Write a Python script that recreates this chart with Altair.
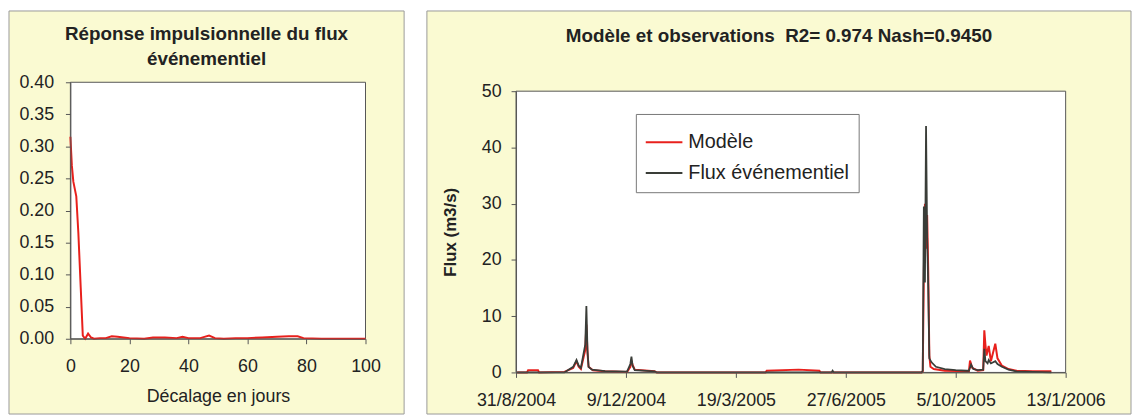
import altair as alt
import pandas as pd

# ---------------- data ----------------
# Left panel: impulse response of the event flux
lag_days = [0, 0.5, 1, 2, 2.7, 3.5, 4.2, 5, 6, 7, 8, 10, 12, 14, 16, 18, 20, 25, 28,
            32, 36, 38, 40, 44, 47, 49, 52, 56, 60, 65, 70, 74, 77, 79, 85, 90, 95, 100]
impulse = [0.315, 0.27, 0.245, 0.222, 0.165, 0.08, 0.005, 0.0, 0.008, 0.002, 0.0, 0.001,
           0.001, 0.004, 0.003, 0.002, 0.001, 0.0, 0.002, 0.002, 0.001, 0.003, 0.001,
           0.001, 0.005, 0.001, 0.0, 0.001, 0.001, 0.002, 0.003, 0.004, 0.004, 0.001,
           0.0, 0.0, 0.0, 0.0]

# Right panel: observed event flux
obs_dates = ["2004-09-01", "2004-10-14", "2004-10-22", "2004-10-25", "2004-10-27",
             "2004-10-29", "2004-11-02", "2004-11-03", "2004-11-04", "2004-11-05",
             "2004-11-08", "2004-11-20", "2004-12-10", "2004-12-13", "2004-12-14",
             "2004-12-15", "2004-12-17", "2005-01-04", "2005-01-06", "2005-06-14",
             "2005-06-15", "2005-06-16", "2005-09-04", "2005-09-05", "2005-09-06",
             "2005-09-07", "2005-09-08", "2005-09-09", "2005-09-10", "2005-09-11",
             "2005-09-13", "2005-09-17", "2005-09-25", "2005-10-05", "2005-10-15",
             "2005-10-17", "2005-10-19", "2005-10-21", "2005-10-25", "2005-10-30",
             "2005-10-31", "2005-11-01", "2005-11-03", "2005-11-04", "2005-11-06",
             "2005-11-10", "2005-11-12", "2005-11-16", "2005-11-22", "2005-11-29",
             "2005-12-14", "2005-12-31"]
obs_flux = [0.0, 0.0, 1.0, 2.2, 1.2,
            0.8, 5.0, 11.8, 4.0, 1.0,
            0.5, 0.25, 0.15, 1.5, 2.8,
            1.2, 0.4, 0.2, 0.0, 0.0,
            0.3, 0.0, 0.0, 0.3, 29.5,
            16.0, 43.8, 24.0, 15.0, 2.5,
            1.8, 1.0, 0.6, 0.4, 0.3,
            0.3, 1.4, 0.6, 0.4, 0.5,
            4.2, 2.0, 1.6, 2.2, 1.6,
            2.0, 1.5, 1.0, 0.5, 0.2,
            0.1, 0.0]

# Right panel: model
mod_dates = ["2004-09-01", "2004-09-10", "2004-09-11", "2004-09-20", "2004-09-21",
             "2004-10-14", "2004-10-22", "2004-10-25", "2004-10-27", "2004-10-29",
             "2004-11-02", "2004-11-03", "2004-11-04", "2004-11-05", "2004-11-09",
             "2004-11-20", "2004-12-10", "2004-12-13", "2004-12-14", "2004-12-15",
             "2004-12-17", "2005-01-04", "2005-01-06", "2005-04-15", "2005-04-16",
             "2005-05-15", "2005-06-03", "2005-06-04", "2005-09-04", "2005-09-05",
             "2005-09-06", "2005-09-07", "2005-09-08", "2005-09-09", "2005-09-10",
             "2005-09-11", "2005-09-12", "2005-09-15", "2005-09-25", "2005-10-17",
             "2005-10-18", "2005-10-20", "2005-10-25", "2005-10-30", "2005-10-31",
             "2005-11-01", "2005-11-02", "2005-11-04", "2005-11-06", "2005-11-10",
             "2005-11-12", "2005-11-16", "2005-11-22", "2005-11-29", "2005-12-14",
             "2005-12-31"]
mod_flux = [0.0, 0.0, 0.4, 0.4, 0.0,
            0.1, 0.8, 2.0, 1.0, 0.6,
            4.0, 8.5, 3.5, 1.0, 0.4,
            0.2, 0.1, 1.0, 2.0, 1.4,
            0.5, 0.2, 0.0, 0.0, 0.3,
            0.5, 0.3, 0.0, 0.0, 0.2,
            18.0, 30.0, 22.0, 28.0, 18.0,
            3.0, 1.0, 0.6, 0.3, 0.2,
            2.1, 0.8, 0.3, 0.4, 7.5,
            5.0, 3.0, 4.7, 2.0, 5.1,
            2.5, 1.2, 0.6, 0.3, 0.2,
            0.2]

series_names = ["Modèle", "Flux événementiel"]
left_title = "Réponse impulsionnelle du flux\névénementiel"
right_title = "Modèle et observations\u00a0 R2= 0.974 Nash=0.9450"

# ---------------- style ----------------
FONT = "Liberation Sans"
BG = "#FAFAD2"
RED = "#E8201C"
GRAY = "#3A3D38"
TXT = "#222222"
LW, LH = 298, 259
RW = 555
RTOP, RBOT = 9, 293   # right plot frame inside a view aligned with the left one

one = pd.DataFrame({"k": [0]})


def panel(x0, x1, y0, y1):
    return alt.Chart(one).mark_rect(fill=BG, stroke="#9A9A9A", strokeWidth=1).encode(
        x=alt.value(x0), x2=alt.value(x1), y=alt.value(y0), y2=alt.value(y1))


def plotbox(w, y0, y1):
    return alt.Chart(one).mark_rect(fill="white", stroke="#555555", strokeWidth=1).encode(
        x=alt.value(0), x2=alt.value(w), y=alt.value(y0), y2=alt.value(y1))


# ---------------- left chart ----------------
imp_df = pd.DataFrame({"lag": lag_days, "r": impulse})
left_line = alt.Chart(imp_df).mark_line(color=RED, strokeWidth=2).encode(
    x=alt.X("lag:Q", scale=alt.Scale(domain=[0, 100], nice=False),
            axis=alt.Axis(values=[0, 20, 40, 60, 80, 100], title="Décalage en jours",
                          titleFontWeight="normal", titleFontSize=18, labelFontSize=18,
                          labelPadding=14, titlePadding=12, labelFlush=False, zindex=1)),
    y=alt.Y("r:Q", scale=alt.Scale(domain=[0, 0.4], nice=False),
            axis=alt.Axis(values=[0, 0.05, 0.1, 0.15, 0.2, 0.25, 0.3, 0.35, 0.4],
                          format=".2f", title=None, labelFontSize=18, labelPadding=12,
                          labelFlush=False, zindex=1)),
)
left_tt = alt.Chart(one).mark_text(
    text=left_title, lineBreak="\n", font=FONT, fontSize=19, fontWeight="bold",
    align="center", baseline="alphabetic", lineHeight=26, color=TXT
).encode(x=alt.value(137.5), y=alt.value(-43))

left = alt.layer(panel(-62, LW + 39, -72, LH + 76), plotbox(LW, 0, LH), left_line,
                 left_tt).properties(width=LW, height=LH)

# ---------------- right chart ----------------
obs_df = pd.DataFrame({"date": obs_dates, "flux": obs_flux, "serie": series_names[1]})
mod_df = pd.DataFrame({"date": mod_dates, "flux": mod_flux, "serie": series_names[0]})

DT = lambda y, m, d: alt.DateTime(year=y, month=m, date=d, utc=True)
xenc = alt.X("date:T",
             scale=alt.Scale(type="utc", domain=[DT(2004, 8, 31), DT(2006, 1, 13)]),
             axis=alt.Axis(values=[DT(2004, 8, 31), DT(2004, 12, 9), DT(2005, 3, 19),
                                   DT(2005, 6, 27), DT(2005, 10, 5), DT(2006, 1, 13)],
                           format="%-d/%-m/%Y", title=None, labelFontSize=18,
                           labelPadding=14, zindex=1, labelFlush=False))
yenc = alt.Y("flux:Q", scale=alt.Scale(domain=[0, 50], nice=False, range=[RBOT, RTOP]),
             axis=alt.Axis(values=[0, 10, 20, 30, 40, 50], title="Flux (m3/s)",
                           titleFontWeight="bold", titleFontSize=17, labelFontSize=18,
                           labelPadding=10, titlePadding=22, labelFlush=False, zindex=1))
cenc = alt.Color("serie:N",
                 scale=alt.Scale(domain=series_names, range=[RED, GRAY]),
                 legend=alt.Legend(title=None, orient="none", legendX=121, legendY=32,
                                   fillColor="white", strokeColor="#777777", padding=9,
                                   symbolType="stroke", symbolSize=1369,
                                   symbolStrokeWidth=2, labelFontSize=20, labelFont=FONT,
                                   labelColor=TXT, rowPadding=1, labelOffset=5,
                                   labelLimit=0, zindex=1))

mod_line = alt.Chart(mod_df).mark_line(strokeWidth=2).encode(x=xenc, y=yenc, color=cenc)
obs_line = alt.Chart(obs_df).mark_line(strokeWidth=1.8).encode(x=xenc, y=yenc, color=cenc)
right_tt = alt.Chart(one).mark_text(
    text=right_title, font=FONT, fontSize=19, fontWeight="bold", align="center",
    baseline="alphabetic", color=TXT
).encode(x=alt.value(265.5), y=alt.value(-41))

right = alt.layer(panel(-90, RW + 66, -72, RBOT + 42), plotbox(RW, RTOP, RBOT), mod_line,
                  obs_line, right_tt).properties(width=RW, height=RBOT)

chart = alt.hconcat(left, right, spacing=21).resolve_scale(
    color="independent"
).resolve_legend(color="independent").properties(
    padding=0, background="white"
).configure_view(stroke="transparent").configure_axis(
    grid=False, domainColor="#555555", tickColor="#555555", tickSize=5,
    labelColor=TXT, titleColor=TXT, labelFont=FONT, titleFont=FONT
)

chart.save("out.html", embed_options={"renderer": "svg", "actions": False})
